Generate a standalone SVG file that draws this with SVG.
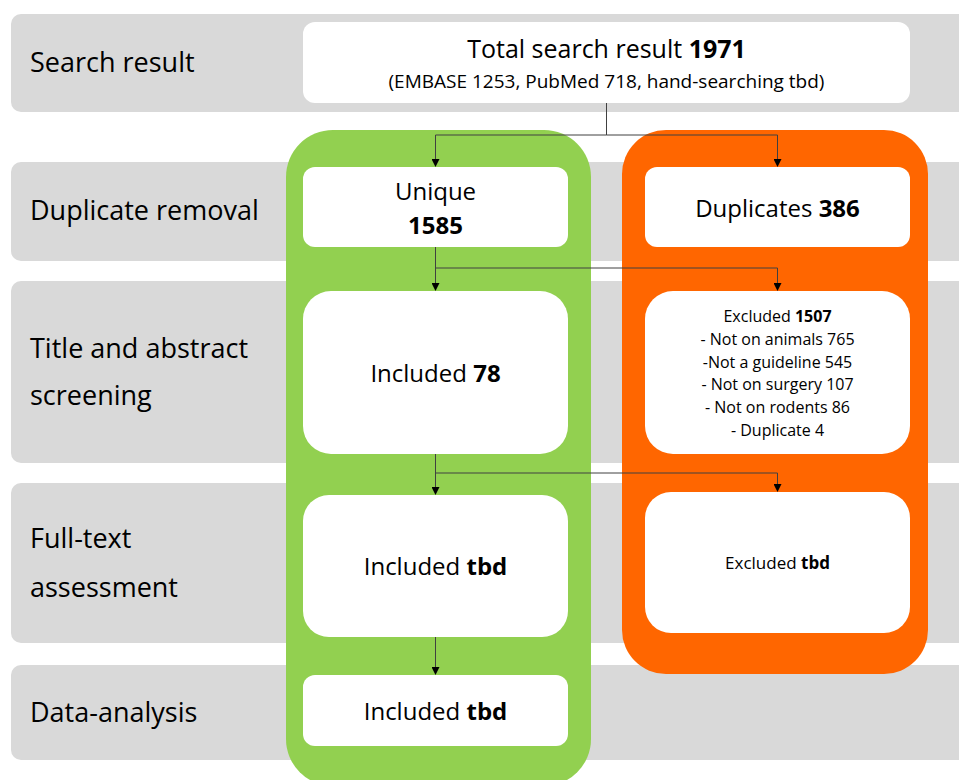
<svg xmlns="http://www.w3.org/2000/svg" width="959" height="780" viewBox="0 0 959 780">
<defs>
<style>
.band{fill:#D9D9D9}
.box{fill:#FFFFFF}
.lbl{font-family:"Open Sans","Noto Sans",sans-serif;font-size:27px;fill:#000}
.t24{font-family:"Open Sans","Noto Sans",sans-serif;font-size:24px;fill:#000;text-anchor:middle}
.t19{font-family:"Open Sans","Noto Sans",sans-serif;font-size:19px;fill:#000;text-anchor:middle}
.t16{font-family:"Open Sans","Noto Sans",sans-serif;font-size:16px;fill:#000;text-anchor:middle}
.b{font-weight:bold}
.conn{fill:none;stroke:#404040;stroke-width:1}
</style>
<marker id="arr" markerWidth="8" markerHeight="8" refX="7" refY="4" orient="auto" markerUnits="userSpaceOnUse">
<path d="M0,0 L8,4 L0,8 Z" fill="#000"/>
</marker>
</defs>
<rect width="959" height="780" fill="#FFFFFF"/>
<g id="bands">
<rect class="band" x="11" y="14" width="960" height="98" rx="10"/>
<rect class="band" x="11" y="162" width="960" height="99" rx="10"/>
<rect class="band" x="11" y="281" width="960" height="182" rx="10"/>
<rect class="band" x="11" y="483" width="960" height="160" rx="10"/>
<rect class="band" x="11" y="665" width="960" height="95" rx="10"/>
</g>
<g id="stage-labels">
<text class="lbl" x="30" y="72">Search result</text>
<text class="lbl" x="30" y="220">Duplicate removal</text>
<text class="lbl" x="30" y="358">Title and abstract</text>
<text class="lbl" x="30" y="405">screening</text>
<text class="lbl" x="30" y="548">Full-text</text>
<text class="lbl" x="30" y="597">assessment</text>
<text class="lbl" x="30" y="722">Data-analysis</text>
</g>
<g id="included-column">
<rect x="286" y="130" width="305" height="656" rx="47" fill="#92D050"/>
</g>
<g id="excluded-column">
<rect x="622" y="130" width="306" height="544" rx="44" fill="#FF6600"/>
</g>
<g id="total">
<rect class="box" x="303" y="22" width="607" height="81" rx="12"/>
<text class="t24" x="606.5" y="58" style="font-size:25px">Total search result <tspan class="b">1971</tspan></text>
<text class="t19" x="606.5" y="88">(EMBASE 1253, PubMed 718, hand-searching tbd)</text>
</g>
<g id="unique">
<rect class="box" x="303" y="167" width="265" height="80" rx="12"/>
<text class="t24" x="435.5" y="200">Unique</text>
<text class="t24 b" x="435.5" y="234">1585</text>
</g>
<g id="duplicates">
<rect class="box" x="645" y="167" width="265" height="80" rx="12"/>
<text class="t24" x="777.5" y="217">Duplicates <tspan class="b">386</tspan></text>
</g>
<g id="included-ta">
<rect class="box" x="303" y="291" width="265" height="163" rx="28"/>
<text class="t24" x="435.5" y="382">Included <tspan class="b">78</tspan></text>
</g>
<g id="excluded-ta">
<rect class="box" x="645" y="291" width="265" height="163" rx="28"/>
<text class="t16" x="777.5" y="322">Excluded <tspan class="b">1507</tspan></text>
<text class="t16" x="777.5" y="345">- Not on animals 765</text>
<text class="t16" x="777.5" y="368">-Not a guideline 545</text>
<text class="t16" x="777.5" y="390">- Not on surgery 107</text>
<text class="t16" x="777.5" y="413">- Not on rodents 86</text>
<text class="t16" x="777.5" y="436">- Duplicate 4</text>
</g>
<g id="included-ft">
<rect class="box" x="303" y="495" width="265" height="142" rx="26"/>
<text class="t24" x="435.5" y="575">Included <tspan class="b">tbd</tspan></text>
</g>
<g id="excluded-ft">
<rect class="box" x="645" y="492" width="265" height="141" rx="26"/>
<text class="t16" x="777.5" y="569" style="font-size:17px">Excluded <tspan class="b">tbd</tspan></text>
</g>
<g id="included-da">
<rect class="box" x="303" y="675" width="265" height="71" rx="12"/>
<text class="t24" x="435.5" y="720">Included <tspan class="b">tbd</tspan></text>
</g>
<g id="connectors">
<path class="conn" d="M606.5,103 V135 H435.5 V166" marker-end="url(#arr)"/>
<path class="conn" d="M606.5,135 H777.5 V166" marker-end="url(#arr)"/>
<path class="conn" d="M435.5,247 V290" marker-end="url(#arr)"/>
<path class="conn" d="M435.5,268 H777.5 V290" marker-end="url(#arr)"/>
<path class="conn" d="M435.5,454 V494" marker-end="url(#arr)"/>
<path class="conn" d="M435.5,473 H777.5 V491" marker-end="url(#arr)"/>
<path class="conn" d="M435.5,637 V674" marker-end="url(#arr)"/>
</g>
</svg>
